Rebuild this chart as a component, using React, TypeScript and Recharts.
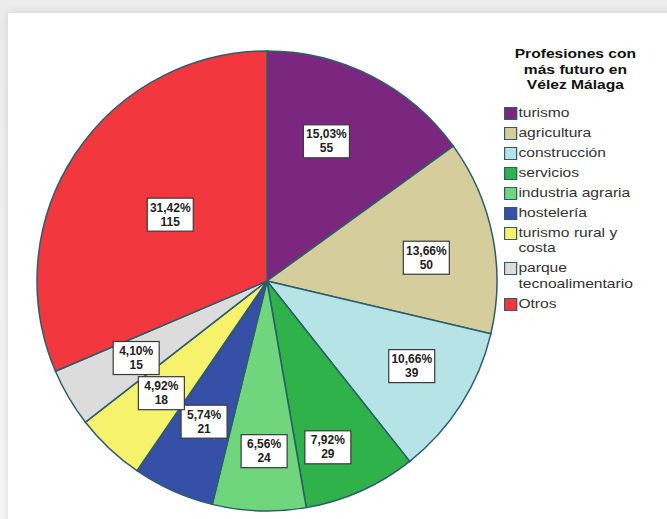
import React from "react"
import { PieChart, Pie, Cell, Legend } from "recharts"

const categories = [
  "turismo",
  "agricultura",
  "construcción",
  "servicios",
  "industria agraria",
  "hostelería",
  "turismo rural y costa",
  "parque tecnoalimentario",
  "Otros",
]
const counts = [55, 50, 39, 29, 24, 21, 18, 15, 115]
const legendTitle = ["Profesiones con", "más futuro en", "Vélez Málaga"]
// legend text wraps like the original
const legendLines = [
  ["turismo"],
  ["agricultura"],
  ["construcción"],
  ["servicios"],
  ["industria agraria"],
  ["hostelería"],
  ["turismo rural y", "costa"],
  ["parque", "tecnoalimentario"],
  ["Otros"],
]

const colors = ["#7b277f", "#d5cd9b", "#b6e3e6", "#2fb24a", "#6fd67e", "#3650a7", "#f7f26b", "#dcdcdc", "#f2383e"]
const edge = "#2b5d6b"
// where SPSS dropped each label box (fraction of radius, clockwise degrees nudge)
const labelRadius = [0.66, 0.7, 0.73, 0.77, 0.74, 0.67, 0.67, 0.66, 0.51]
const labelNudge = [-4, 3, -2, 4, -1, 0, 0, 0, 1]

const total = counts.reduce((a, b) => a + b, 0)
const data = categories.map((name, i) => ({ name, value: counts[i] }))

const RAD = Math.PI / 180

function SliceLabel(props: any) {
  const { cx, cy, midAngle, outerRadius, index, value } = props
  const r = outerRadius * labelRadius[index]
  const a = (midAngle - labelNudge[index]) * RAD
  const x = cx + r * Math.cos(a)
  const y = cy - r * Math.sin(a)
  const pct = ((value / total) * 100).toFixed(2).replace(".", ",") + "%"
  const w = 46
  const h = 33
  return (
    <g>
      <rect x={x - w / 2} y={y - h / 2} width={w} height={h} fill="#fff" stroke="#3a3a3a" strokeWidth={1.2} />
      <text x={x} y={y - 3} textAnchor="middle" fontSize={12} fontWeight="bold" fill="#222" fontFamily="Liberation Sans, Arial, sans-serif">
        {pct}
      </text>
      <text x={x} y={y + 11} textAnchor="middle" fontSize={12} fontWeight="bold" fill="#222" fontFamily="Liberation Sans, Arial, sans-serif">
        {value}
      </text>
    </g>
  )
}

// the source image is stretched sideways a bit, so the legend is too
function LegendBox() {
  return (
    <div
      style={{
        fontFamily: "Liberation Sans, Arial, sans-serif",
        color: "#333",
        width: 119,
        transform: "scaleX(1.2)",
        transformOrigin: "0 0",
        whiteSpace: "nowrap",
      }}
    >
      <div style={{ fontWeight: "bold", fontSize: 13, lineHeight: "15.5px", textAlign: "center", color: "#111", marginBottom: 12 }}>
        {legendTitle.map((t) => (
          <div key={t}>{t}</div>
        ))}
      </div>
      {categories.map((c, i) => (
        <div key={c} style={{ display: "flex", alignItems: "flex-start", marginBottom: 4.5 }}>
          <div
            style={{
              width: 9,
              height: 11,
              background: colors[i],
              border: `1.5px solid ${edge}`,
              marginTop: 2,
              marginRight: 1,
              flexShrink: 0,
            }}
          />
          <div style={{ fontSize: 13, lineHeight: "15.5px" }}>
            {legendLines[i].map((l) => (
              <div key={l}>{l}</div>
            ))}
          </div>
        </div>
      ))}
    </div>
  )
}

export default function App() {
  return (
    <div style={{ position: "absolute", left: 0, top: 0, width: 667, height: 519, background: "linear-gradient(#ececec, #f6f6f6)", overflow: "hidden" }}>
      <div style={{ position: "absolute", left: 8, top: 13, width: 680, height: 520, background: "#fff", boxShadow: "0 0 8px rgba(0,0,0,0.12)" }} />
      <div style={{ position: "absolute", left: 0, top: 0 }}>
        <PieChart width={667} height={519} margin={{ top: 0, right: 0, bottom: 0, left: 0 }}>
          <Pie
            data={data}
            dataKey="value"
            nameKey="name"
            cx={267}
            cy={281}
            outerRadius={230}
            startAngle={90}
            endAngle={-270}
            stroke={edge}
            strokeWidth={1.5}
            label={SliceLabel}
            labelLine={false}
            isAnimationActive={false}
          >
            {data.map((d, i) => (
              <Cell key={d.name} fill={colors[i]} />
            ))}
          </Pie>
          <Legend content={<LegendBox />} layout="vertical" wrapperStyle={{ left: 504, top: 46, width: 150 }} />
        </PieChart>
      </div>
    </div>
  )
}
